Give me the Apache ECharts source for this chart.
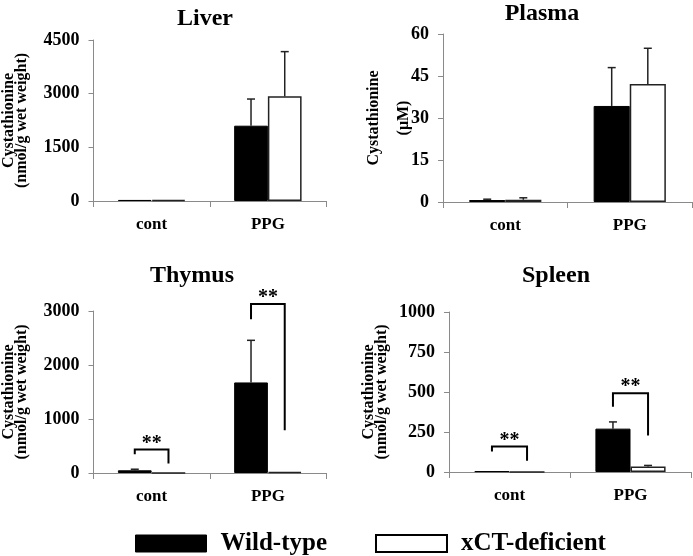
<!DOCTYPE html>
<html>
<head>
<meta charset="utf-8">
<script src="https://cdn.jsdelivr.net/npm/echarts@6/dist/echarts.min.js"></script>
<style>
html,body{margin:0;padding:0;background:#fff;}
#chart{width:693px;height:556px;}
</style>
</head>
<body>
<div id="chart"></div>
<script>
// ---- data ----
const categories = ['cont', 'PPG'];
const seriesNames = ['Wild-type', 'xCT-deficient'];
const panelTitles = ['Liver', 'Plasma', 'Thymus', 'Spleen'];
const yNames = ['Cystathionine\n(nmol/g wet weight)', 'Cystathionine\n(μM)', 'Cystathionine\n(nmol/g wet weight)', 'Cystathionine\n(nmol/g wet weight)'];

const liverTicks = [0, 1500, 3000, 4500];
const plasmaTicks = [0, 15, 30, 45, 60];
const thymusTicks = [0, 1000, 2000, 3000];
const spleenTicks = [0, 250, 500, 750, 1000];

const liverWT = [30, 2105];
const liverWTErr = [0, 745];
const liverKO = [30, 2925];
const liverKOErr = [0, 1250];

const plasmaWT = [0.7, 34.3];
const plasmaWTErr = [0.3, 13.7];
const plasmaKO = [0.8, 42.1];
const plasmaKOErr = [0.7, 12.8];

const thymusWT = [50, 1677];
const thymusWTErr = [20, 780];
const thymusKO = [3, 20];
const thymusKOErr = [0, 0];

const spleenWT = [5, 271];
const spleenWTErr = [0, 42];
const spleenKO = [1, 35];
const spleenKOErr = [0, 6];

// significance brackets: [category, top, left leg end, right leg end]
const thymusBrackets = [[0, 434, 347, 174], [1, 3130, 2846, 792]];
const spleenBrackets = [[0, 159, 128, 70], [1, 492, 408, 228]];
const bracketLabel = '**';

// ---- layout ----
const FONT = '"Liberation Serif", "Times New Roman", serif';
const grids = [
  {left: 91, top: 40, width: 235, height: 161},
  {left: 443, top: 34, width: 249, height: 168},
  {left: 91, top: 311, width: 235, height: 162},
  {left: 449, top: 312, width: 242, height: 160}
];
const titlePos = [[200, 2], [537, -3], [187, 259], [551, 259]];
const nameGaps = [65, 24, 65, 61];
const ticksList = [liverTicks, plasmaTicks, thymusTicks, spleenTicks];
const wt = [liverWT, plasmaWT, thymusWT, spleenWT];
const wtErr = [liverWTErr, plasmaWTErr, thymusWTErr, spleenWTErr];
const ko = [liverKO, plasmaKO, thymusKO, spleenKO];
const koErr = [liverKOErr, plasmaKOErr, thymusKOErr, spleenKOErr];
const brackets = [null, null, thymusBrackets, spleenBrackets];
const HALF = 0.145;

function errItem(params, api) {
  const cat = api.value(0), v = api.value(1), e = api.value(2), side = api.value(3);
  if (!(e > 0)) return {type: 'group', children: []};
  const band = api.size([1, 0])[0];
  const c0 = api.coord([cat, v]);
  const c1 = api.coord([cat, v + e]);
  const x = c0[0] + side * HALF * band;
  return {type: 'group', children: [
    {type: 'line', shape: {x1: x, y1: c0[1], x2: x, y2: c1[1]}, style: {stroke: '#222', lineWidth: 1.5}},
    {type: 'line', shape: {x1: x - 4, y1: c1[1], x2: x + 4, y2: c1[1]}, style: {stroke: '#222', lineWidth: 1.5}}
  ]};
}

function bracketItem(params, api) {
  const cat = api.value(0), top = api.value(1), l = api.value(2), r = api.value(3);
  const band = api.size([1, 0])[0];
  const ct = api.coord([cat, top]);
  const cl = api.coord([cat, l]);
  const cr = api.coord([cat, r]);
  const xl = ct[0] - HALF * band, xr = ct[0] + HALF * band;
  return {type: 'group', children: [
    {type: 'polyline', shape: {points: [[xl, cl[1]], [xl, ct[1]], [xr, ct[1]], [xr, cr[1]]]},
     style: {stroke: '#000', lineWidth: 2, fill: null}},
    {type: 'text', style: {text: bracketLabel, x: ct[0], y: ct[1] - 6, align: 'center', verticalAlign: 'middle',
      font: 'bold 20px ' + FONT, fill: '#000'}}
  ]};
}

const option = {
  animation: false,
  backgroundColor: '#fff',
  title: panelTitles.map((t, i) => ({
    text: t, left: titlePos[i][0], top: titlePos[i][1], textAlign: 'center',
    textStyle: {fontFamily: FONT, fontWeight: 'bold', fontSize: 24, color: '#000'}
  })),
  legend: {
    left: 130, top: 526, itemWidth: 71, itemHeight: 17, itemGap: 48,
    data: [
      {name: seriesNames[0], icon: 'rect', itemStyle: {color: '#000', borderColor: '#000', borderWidth: 1}},
      {name: seriesNames[1], icon: 'rect', itemStyle: {color: '#fff', borderColor: '#000', borderWidth: 2}}
    ],
    textStyle: {fontFamily: FONT, fontWeight: 'bold', fontSize: 25, color: '#000', padding: [0, 0, 0, 9]}
  },
  grid: grids,
  xAxis: grids.map((g, i) => ({
    type: 'category', gridIndex: i, data: categories,
    axisLine: {lineStyle: {color: '#8a8a8a', width: 1}},
    axisTick: {show: true, length: 6, lineStyle: {color: '#8a8a8a'}},
    axisLabel: {fontFamily: FONT, fontWeight: 'bold', fontSize: 17, color: '#000', margin: 15}
  })),
  yAxis: grids.map((g, i) => {
    const t = ticksList[i];
    return {
      type: 'value', gridIndex: i, min: t[0], max: t[t.length - 1], interval: t[1] - t[0],
      name: yNames[i], nameLocation: 'middle', nameRotate: 90, nameGap: nameGaps[i],
      nameMoveOverlap: false,
      nameTextStyle: {fontFamily: FONT, fontWeight: 'bold', fontSize: 16, color: '#000', lineHeight: i === 1 ? 30 : 13},
      splitLine: {show: false},
      axisLine: {show: true, lineStyle: {color: '#8a8a8a', width: 1}},
      axisTick: {show: true, length: 5, lineStyle: {color: '#8a8a8a'}},
      axisLabel: {fontFamily: FONT, fontWeight: 'bold', fontSize: 18, color: '#000', margin: 14,
        formatter: (v) => String(v)}
    };
  }),
  series: []
};

for (let i = 0; i < 4; i++) {
  option.series.push({
    type: 'bar', name: seriesNames[0], xAxisIndex: i, yAxisIndex: i, data: wt[i],
    barWidth: '29%', barGap: '0%',
    itemStyle: {color: '#000', borderColor: '#000', borderWidth: 1}
  });
  option.series.push({
    type: 'bar', name: seriesNames[1], xAxisIndex: i, yAxisIndex: i, data: ko[i],
    barWidth: '29%', barGap: '0%',
    itemStyle: {color: '#fff', borderColor: '#222', borderWidth: 1.5}
  });
  const errData = [];
  for (let c = 0; c < categories.length; c++) {
    errData.push([c, wt[i][c], wtErr[i][c], -1]);
    errData.push([c, ko[i][c], koErr[i][c], 1]);
  }
  option.series.push({
    type: 'custom', xAxisIndex: i, yAxisIndex: i, data: errData, renderItem: errItem,
    encode: {x: 0, y: 1}, z: 5, silent: true
  });
  if (brackets[i]) {
    option.series.push({
      type: 'custom', xAxisIndex: i, yAxisIndex: i, data: brackets[i], renderItem: bracketItem,
      encode: {x: 0, y: 1}, z: 6, clip: false, silent: true
    });
  }
}

const chart = echarts.init(document.getElementById('chart'), null, {renderer: 'canvas'});
chart.setOption(option);
</script>
</body>
</html>
